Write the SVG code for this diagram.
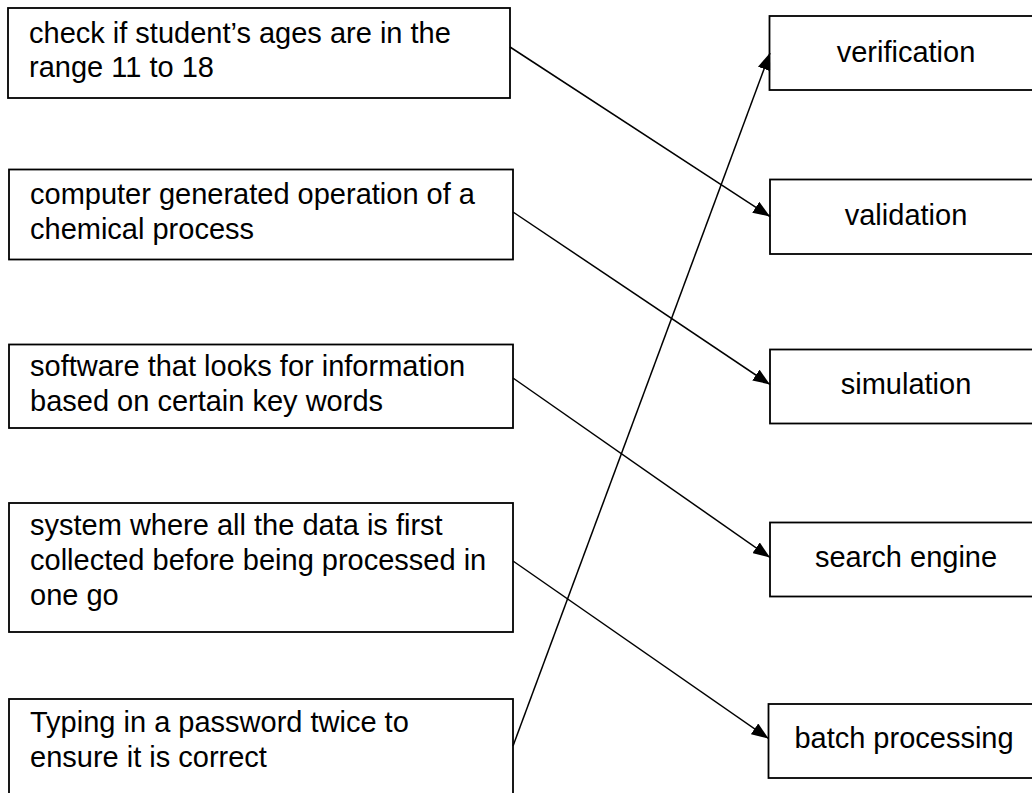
<svg xmlns="http://www.w3.org/2000/svg" width="1032" height="793" viewBox="0 0 1032 793">
<style>
.box{fill:#fff;stroke:#000;stroke-width:1.8}
.t{font-family:"Liberation Sans",Arial,sans-serif;font-size:29px;fill:#000}
.c{text-anchor:middle}
.ln{stroke:#000;stroke-width:1.5;fill:none;marker-end:url(#ah)}
</style>
<defs>
<marker id="ah" markerUnits="userSpaceOnUse" markerWidth="17" markerHeight="13" refX="17" refY="6.5" orient="auto">
<path d="M0,0 L17,6.5 L0,13 Z" fill="#000"/>
</marker>
</defs>
<rect width="1032" height="793" fill="#fff"/>
<g id="q1"><rect class="box" x="8" y="8" width="502" height="90"/>
<text class="t" x="29" y="43">check if student’s ages are in the</text>
<text class="t" x="29" y="77">range 11 to 18</text></g>
<g id="q2"><rect class="box" x="9" y="169.5" width="504" height="90"/>
<text class="t" x="30" y="204">computer generated operation of a</text>
<text class="t" x="30" y="239">chemical process</text></g>
<g id="q3"><rect class="box" x="9" y="344.5" width="504" height="83.5"/>
<text class="t" x="30" y="376">software that looks for information</text>
<text class="t" x="30" y="411">based on certain key words</text></g>
<g id="q4"><rect class="box" x="9" y="503" width="504" height="129"/>
<text class="t" x="30" y="535">system where all the data is first</text>
<text class="t" x="30" y="570">collected before being processed in</text>
<text class="t" x="30" y="605">one go</text></g>
<g id="q5"><rect class="box" x="9" y="699" width="504" height="110"/>
<text class="t" x="30" y="732">Typing in a password twice to</text>
<text class="t" x="30" y="767">ensure it is correct</text></g>
<g id="a1"><rect class="box" x="769.5" y="16" width="275" height="74"/>
<text class="t c" x="906" y="62">verification</text></g>
<g id="a2"><rect class="box" x="770" y="179.5" width="275" height="74.5"/>
<text class="t c" x="906" y="225">validation</text></g>
<g id="a3"><rect class="box" x="770" y="349.5" width="275" height="74"/>
<text class="t c" x="906" y="394">simulation</text></g>
<g id="a4"><rect class="box" x="770" y="522.5" width="275" height="74"/>
<text class="t c" x="906" y="567">search engine</text></g>
<g id="a5"><rect class="box" x="768.5" y="704" width="276" height="74"/>
<text class="t c" x="904" y="748">batch processing</text></g>
<g id="connectors">
<line class="ln" x1="510" y1="47" x2="770" y2="216.5"/>
<line class="ln" x1="513" y1="212" x2="770" y2="384.5"/>
<line class="ln" x1="513" y1="378" x2="770" y2="557.5"/>
<line class="ln" x1="513" y1="561" x2="768.5" y2="738.5"/>
<line class="ln" x1="513" y1="746" x2="770" y2="53"/>
</g>
</svg>
